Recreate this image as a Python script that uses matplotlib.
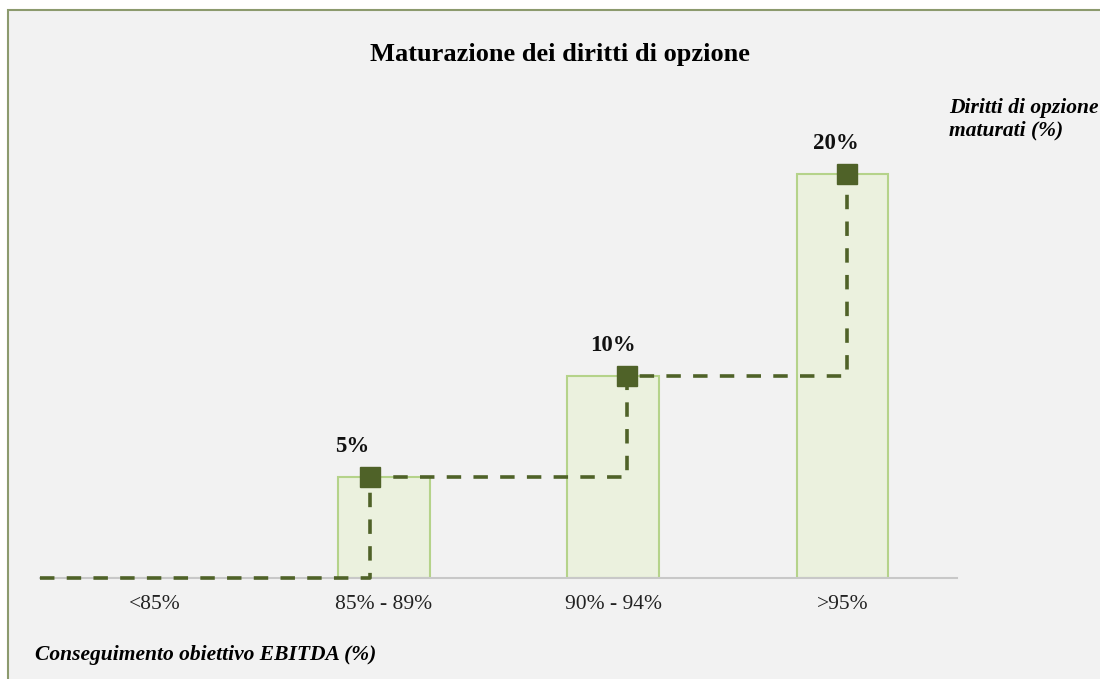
import matplotlib
matplotlib.use("Agg")
import matplotlib.pyplot as plt
from matplotlib.patches import Rectangle

categories = ["<85%", "85% - 89%", "90% - 94%", ">95%"]
bar_values = [0, 5, 10, 20]
step_x = [-0.5, 0.94, 2.06, 3.02]
step_y = [0, 5, 10, 20]
label_x = [0.86, 2.0, 2.97]
label_vals = [5, 10, 20]
label_texts = ["5%", "10%", "20%"]

W, H = 1100, 679
fig = plt.figure(figsize=(W / 100, H / 100), dpi=100, facecolor="white")
fig.patches.append(Rectangle((8 / W, -0.1), 1.2, 1 - 10 / H + 0.1,
                             transform=fig.transFigure, facecolor="#f2f2f2",
                             edgecolor="#8c9a6e", linewidth=1.5, zorder=-10))

ax = fig.add_axes([40 / W, 1 - 578 / H, (957 - 40) / W, 22 * 20.2 / H])
ax.set_facecolor("none")
ax.set_xlim(-0.5, 3.5)
ax.set_ylim(0, 22)

xs = range(len(categories))
ax.bar(xs, bar_values, width=0.40, color="#ebf1de", edgecolor="#b5d38a",
       linewidth=1.5, zorder=2)

# step line
px, py = [step_x[0]], [step_y[0]]
for i in range(1, len(step_x)):
    px += [step_x[i], step_x[i]]
    py += [step_y[i - 1], step_y[i]]
ax.plot(px, py, color="#4f6228", linewidth=2.6, linestyle=(0, (4, 3.4)),
        zorder=3, clip_on=False)
ax.plot(step_x[1:], step_y[1:], linestyle="none", marker="s", markersize=15,
        color="#4f6228", zorder=4, clip_on=False)

for x, v, t in zip(label_x, label_vals, label_texts):
    ax.annotate(t, (x, v), xytext=(0, 22), textcoords="offset points",
                ha="center", va="center", fontsize=16.5, fontweight="bold",
                family="Liberation Serif", color="#111111")

for s in ["top", "right", "left"]:
    ax.spines[s].set_visible(False)
ax.spines["bottom"].set_color("#c8c8c8")
ax.spines["bottom"].set_linewidth(1.5)
ax.set_yticks([])
ax.set_xticks(list(xs))
ax.set_xticklabels(categories, family="Liberation Serif", fontsize=15.5,
                   color="#222222")
ax.tick_params(axis="x", length=0, pad=12)

fig.text(560 / W, 1 - 55 / H, "Maturazione dei diritti di opzione",
         ha="center", va="center", fontsize=19, fontweight="bold",
         family="Liberation Serif")
fig.text(949 / W, 1 - 119 / H, "Diritti di opzione\nmaturati (%)",
         ha="left", va="center", fontsize=15.5, fontweight="bold",
         style="italic", family="Liberation Serif", linespacing=1.2)
fig.text(35 / W, 1 - 655 / H, "Conseguimento obiettivo EBITDA (%)",
         ha="left", va="center", fontsize=15.5, fontweight="bold",
         style="italic", family="Liberation Serif")

fig.savefig("out.png", dpi=100, facecolor="white")
